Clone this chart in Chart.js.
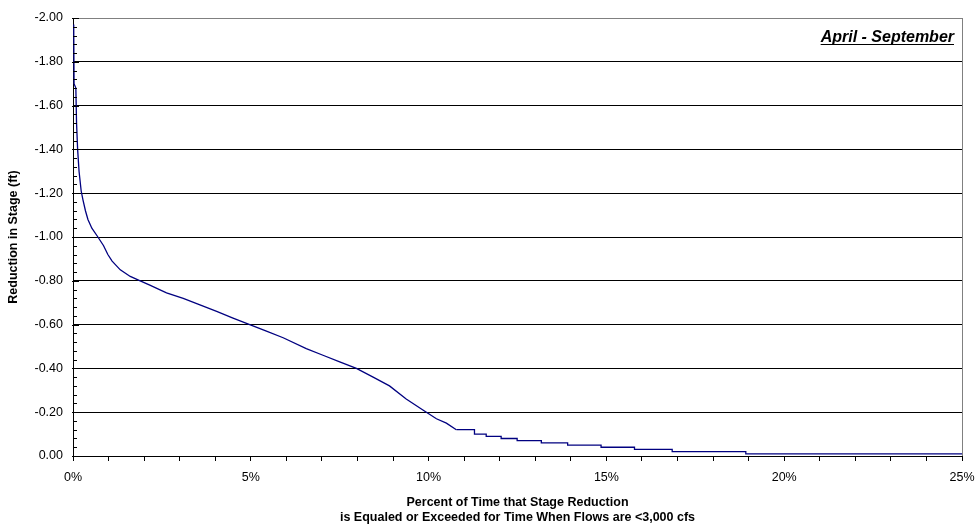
<!DOCTYPE html>
<html>
<head>
<meta charset="utf-8">
<title>Reduction in Stage - April to September</title>
<script src="https://cdn.jsdelivr.net/npm/chart.js@4.4.1/dist/chart.umd.min.js"></script>
<style>
  body { margin: 0; background: #fff; }
  canvas { display: block; }
</style>
</head>
<body>
<canvas id="stageChart" width="975" height="529"></canvas>
<script>
// values (percent of time, stage reduction in ft)
var curvePct   = [0.02, 0.03, 0.08, 0.10, 0.13, 0.17, 0.23, 0.28, 0.35, 0.42, 0.53, 0.70, 0.86, 0.98, 1.10, 1.33, 1.61, 1.89,
                  2.16, 2.63, 3.10, 3.57, 4.04, 4.50, 4.97, 5.44, 5.91, 6.56, 7.03, 7.50, 7.97, 8.44, 8.90, 9.37, 9.84, 10.22, 10.50, 10.78];
var curveStage = [-1.97, -1.70, -1.68, -1.52, -1.40, -1.30, -1.21, -1.17, -1.12, -1.08, -1.04, -1.00, -0.96, -0.92, -0.89, -0.85, -0.82, -0.80,
                  -0.78, -0.745, -0.72, -0.69, -0.66, -0.63, -0.60, -0.57, -0.54, -0.49, -0.46, -0.43, -0.40, -0.36, -0.32, -0.26, -0.21, -0.17, -0.15, -0.12];

// tail of the curve, where each 0.01 ft step is visible
var tailPct   = [10.78, 11.29, 11.62, 12.04, 12.49, 13.17, 13.91, 14.85, 15.79, 16.85, 18.92, 25];
var tailStage = [-0.12, -0.10, -0.09, -0.08, -0.07, -0.06, -0.05, -0.04, -0.03, -0.02, -0.01, -0.01];

var xTitle = ['Percent of Time that Stage Reduction', 'is Equaled or Exceeded for Time When Flows are <3,000 cfs'];
var yTitle = 'Reduction in Stage (ft)';
var periodLabel = 'April - September';

var FONT = '"Liberation Sans", Arial, sans-serif';

function toPoints(xs, ys) {
  var pts = [];
  for (var i = 0; i < xs.length; i++) pts.push({x: xs[i], y: ys[i]});
  return pts;
}

// minor tick marks on the y axis, right border and the period label
var extras = {
  id: 'extras',
  afterDraw: function(chart) {
    var ctx = chart.ctx, a = chart.chartArea, y = chart.scales.y;
    ctx.save();
    ctx.lineWidth = 1;
    ctx.strokeStyle = '#808080';
    ctx.beginPath();
    ctx.moveTo(Math.round(a.right) + 0.5, a.top);
    ctx.lineTo(Math.round(a.right) + 0.5, a.bottom);
    ctx.stroke();

    ctx.strokeStyle = '#000';
    ctx.beginPath();
    for (var i = 0; i <= 50; i++) {
      var py = Math.round(y.getPixelForValue(-2 + i * 0.04)) + 0.5;
      var major = i % 5 === 0;
      ctx.moveTo(a.left - (major ? 1 : 0), py);
      ctx.lineTo(a.left + (major ? 6 : 4), py);
    }
    ctx.stroke();

    ctx.font = 'italic bold 16px ' + FONT;
    ctx.fillStyle = '#000';
    ctx.textAlign = 'right';
    ctx.textBaseline = 'alphabetic';
    var tx = a.right - 8, ty = a.top + 24;
    ctx.fillText(periodLabel, tx, ty);
    var w = ctx.measureText(periodLabel).width;
    ctx.beginPath();
    ctx.moveTo(tx - w, ty + 2.5);
    ctx.lineTo(tx, ty + 2.5);
    ctx.stroke();
    ctx.restore();
  }
};

var ctx = document.getElementById('stageChart');

var chart = new Chart(ctx, {
  type: 'line',
  data: {
    datasets: [
      {
        label: 'curve',
        data: toPoints(curvePct, curveStage),
        borderColor: '#000080',
        borderWidth: 1.3,
        pointRadius: 0,
        tension: 0,
        fill: false
      },
      {
        label: 'tail',
        data: toPoints(tailPct, tailStage),
        borderColor: '#000080',
        borderWidth: 1.3,
        pointRadius: 0,
        stepped: true,
        fill: false
      }
    ]
  },
  options: {
    responsive: false,
    animation: false,
    layout: { padding: { top: 18, right: 13, left: 0, bottom: 0 } },
    plugins: {
      legend: { display: false },
      tooltip: { enabled: false }
    },
    scales: {
      x: {
        type: 'linear',
        min: 0,
        max: 25,
        afterFit: function(scale) {
          scale.height = 73;
          scale.paddingLeft = 0;
          scale.paddingRight = 0;
        },
        border: { color: '#000', width: 1 },
        grid: { drawOnChartArea: false, drawTicks: true, tickLength: 5, tickColor: '#000' },
        ticks: {
          stepSize: 1,
          autoSkip: false,
          maxRotation: 0,
          padding: 9,
          color: '#000',
          font: { family: FONT, size: 12.5 },
          callback: function(v) { return v % 5 === 0 ? v + '%' : ''; }
        },
        title: {
          display: true,
          text: xTitle,
          color: '#000',
          font: { family: FONT, size: 12.5, weight: 'bold', lineHeight: 1.2 },
          padding: { top: 0, bottom: 3.5 }
        }
      },
      y: {
        type: 'linear',
        min: -2,
        max: 0,
        reverse: true,
        afterFit: function(scale) { scale.width = 73; },
        border: { color: '#000', width: 1 },
        grid: {
          drawTicks: false,
          color: function(c) { return c.tick && c.tick.value === -2 ? '#808080' : '#000'; }
        },
        ticks: {
          stepSize: 0.2,
          padding: 10,
          color: '#000',
          font: { family: FONT, size: 12.5 },
          callback: function(v) { return v.toFixed(2); }
        },
        title: {
          display: true,
          text: yTitle,
          color: '#000',
          font: { family: FONT, size: 12.5, weight: 'bold', lineHeight: 1.2 },
          padding: { top: 6.5, bottom: 0 }
        }
      }
    }
  },
  plugins: [extras]
});
</script>
</body>
</html>
